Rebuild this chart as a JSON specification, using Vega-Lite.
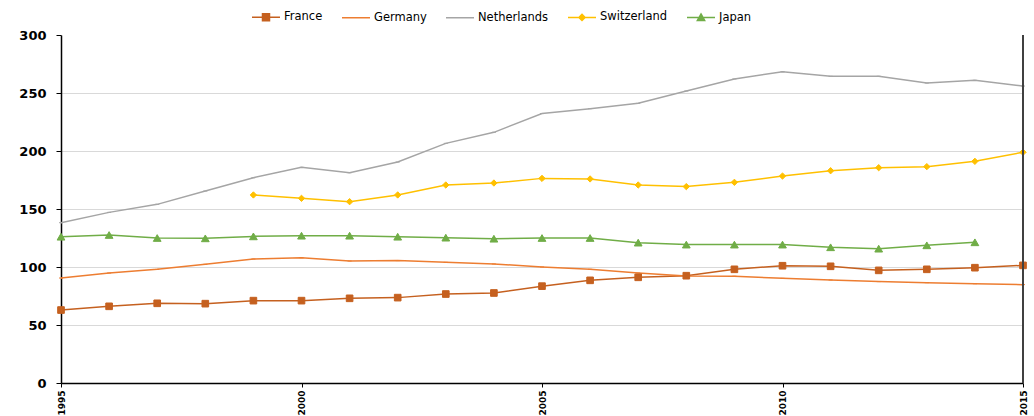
{
  "$schema": "https://vega.github.io/schema/vega-lite/v6.json",
  "width": 962,
  "height": 348,
  "autosize": {"type": "none"},
  "padding": {"left": 61, "top": 35, "right": 11, "bottom": 33},
  "background": "white",
  "config": {
    "view": {"stroke": null},
    "font": "DejaVu Sans",
    "legend": {
      "orient": "none",
      "direction": "horizontal",
      "legendX": 190,
      "legendY": -33,
      "labelFont": "DejaVu Sans",
      "labelFontSize": 11.5,
      "labelColor": "black",
      "labelOffset": 3,
      "columnPadding": 16,
      "symbolSize": 784,
      "symbolStrokeWidth": 1.5,
      "symbolOpacity": 1
    }
  },
  "data": {
    "values": [
      {"year": 1995, "country": "France", "value": 62.9},
      {"year": 1996, "country": "France", "value": 66.1},
      {"year": 1997, "country": "France", "value": 68.7},
      {"year": 1998, "country": "France", "value": 68.4},
      {"year": 1999, "country": "France", "value": 71.0},
      {"year": 2000, "country": "France", "value": 71.0},
      {"year": 2001, "country": "France", "value": 73.0},
      {"year": 2002, "country": "France", "value": 73.6},
      {"year": 2003, "country": "France", "value": 76.7},
      {"year": 2004, "country": "France", "value": 77.6},
      {"year": 2005, "country": "France", "value": 83.5},
      {"year": 2006, "country": "France", "value": 88.5},
      {"year": 2007, "country": "France", "value": 91.1},
      {"year": 2008, "country": "France", "value": 92.5},
      {"year": 2009, "country": "France", "value": 98.0},
      {"year": 2010, "country": "France", "value": 101.1},
      {"year": 2011, "country": "France", "value": 100.6},
      {"year": 2012, "country": "France", "value": 97.1},
      {"year": 2013, "country": "France", "value": 98.0},
      {"year": 2014, "country": "France", "value": 99.4},
      {"year": 2015, "country": "France", "value": 101.4},
      {"year": 1995, "country": "Germany", "value": 90.5},
      {"year": 1996, "country": "Germany", "value": 94.8},
      {"year": 1997, "country": "Germany", "value": 98.0},
      {"year": 1998, "country": "Germany", "value": 102.3},
      {"year": 1999, "country": "Germany", "value": 106.9},
      {"year": 2000, "country": "Germany", "value": 108.0},
      {"year": 2001, "country": "Germany", "value": 105.2},
      {"year": 2002, "country": "Germany", "value": 105.5},
      {"year": 2003, "country": "Germany", "value": 104.0},
      {"year": 2004, "country": "Germany", "value": 102.6},
      {"year": 2005, "country": "Germany", "value": 100.0},
      {"year": 2006, "country": "Germany", "value": 98.0},
      {"year": 2007, "country": "Germany", "value": 94.8},
      {"year": 2008, "country": "Germany", "value": 92.2},
      {"year": 2009, "country": "Germany", "value": 92.0},
      {"year": 2010, "country": "Germany", "value": 90.2},
      {"year": 2011, "country": "Germany", "value": 88.8},
      {"year": 2012, "country": "Germany", "value": 87.4},
      {"year": 2013, "country": "Germany", "value": 86.5},
      {"year": 2014, "country": "Germany", "value": 85.6},
      {"year": 2015, "country": "Germany", "value": 84.8},
      {"year": 1995, "country": "Netherlands", "value": 138.2},
      {"year": 1996, "country": "Netherlands", "value": 147.1},
      {"year": 1997, "country": "Netherlands", "value": 154.0},
      {"year": 1998, "country": "Netherlands", "value": 165.5},
      {"year": 1999, "country": "Netherlands", "value": 177.0},
      {"year": 2000, "country": "Netherlands", "value": 185.9},
      {"year": 2001, "country": "Netherlands", "value": 181.3},
      {"year": 2002, "country": "Netherlands", "value": 190.5},
      {"year": 2003, "country": "Netherlands", "value": 206.6},
      {"year": 2004, "country": "Netherlands", "value": 216.1},
      {"year": 2005, "country": "Netherlands", "value": 232.3},
      {"year": 2006, "country": "Netherlands", "value": 236.5},
      {"year": 2007, "country": "Netherlands", "value": 241.1},
      {"year": 2008, "country": "Netherlands", "value": 251.7},
      {"year": 2009, "country": "Netherlands", "value": 262.1},
      {"year": 2010, "country": "Netherlands", "value": 268.4},
      {"year": 2011, "country": "Netherlands", "value": 264.4},
      {"year": 2012, "country": "Netherlands", "value": 264.4},
      {"year": 2013, "country": "Netherlands", "value": 258.6},
      {"year": 2014, "country": "Netherlands", "value": 260.9},
      {"year": 2015, "country": "Netherlands", "value": 256.0},
      {"year": 1999, "country": "Switzerland", "value": 162.1},
      {"year": 2000, "country": "Switzerland", "value": 159.2},
      {"year": 2001, "country": "Switzerland", "value": 156.3},
      {"year": 2002, "country": "Switzerland", "value": 162.1},
      {"year": 2003, "country": "Switzerland", "value": 170.7},
      {"year": 2004, "country": "Switzerland", "value": 172.4},
      {"year": 2005, "country": "Switzerland", "value": 176.4},
      {"year": 2006, "country": "Switzerland", "value": 175.9},
      {"year": 2007, "country": "Switzerland", "value": 170.7},
      {"year": 2008, "country": "Switzerland", "value": 169.3},
      {"year": 2009, "country": "Switzerland", "value": 173.0},
      {"year": 2010, "country": "Switzerland", "value": 178.4},
      {"year": 2011, "country": "Switzerland", "value": 183.0},
      {"year": 2012, "country": "Switzerland", "value": 185.6},
      {"year": 2013, "country": "Switzerland", "value": 186.5},
      {"year": 2014, "country": "Switzerland", "value": 191.1},
      {"year": 2015, "country": "Switzerland", "value": 198.9},
      {"year": 1995, "country": "Japan", "value": 126.1},
      {"year": 1996, "country": "Japan", "value": 127.6},
      {"year": 1997, "country": "Japan", "value": 125.0},
      {"year": 1998, "country": "Japan", "value": 124.7},
      {"year": 1999, "country": "Japan", "value": 126.4},
      {"year": 2000, "country": "Japan", "value": 127.0},
      {"year": 2001, "country": "Japan", "value": 127.0},
      {"year": 2002, "country": "Japan", "value": 126.1},
      {"year": 2003, "country": "Japan", "value": 125.3},
      {"year": 2004, "country": "Japan", "value": 124.4},
      {"year": 2005, "country": "Japan", "value": 125.0},
      {"year": 2006, "country": "Japan", "value": 125.0},
      {"year": 2007, "country": "Japan", "value": 121.0},
      {"year": 2008, "country": "Japan", "value": 119.3},
      {"year": 2009, "country": "Japan", "value": 119.3},
      {"year": 2010, "country": "Japan", "value": 119.3},
      {"year": 2011, "country": "Japan", "value": 117.0},
      {"year": 2012, "country": "Japan", "value": 115.8},
      {"year": 2013, "country": "Japan", "value": 118.7},
      {"year": 2014, "country": "Japan", "value": 121.3}
    ]
  },
  "layer": [
    {
      "mark": {"type": "line", "strokeWidth": 1.5},
      "encoding": {
        "x": {
          "field": "year",
          "type": "quantitative",
          "scale": {"domain": [1995, 2015], "nice": false, "zero": false},
          "axis": {
            "title": null,
            "values": [1995, 2000, 2005, 2010, 2015],
            "format": "d",
            "labelAngle": 270,
            "labelFont": "DejaVu Sans",
            "labelFontWeight": "bold",
            "labelFontSize": 9,
            "labelColor": "black",
            "labelPadding": 3,
            "tickSize": 4,
            "tickColor": "black",
            "domainColor": "black",
            "domainWidth": 1.5,
            "grid": false
          }
        },
        "y": {
          "field": "value",
          "type": "quantitative",
          "scale": {"domain": [0, 300], "nice": false},
          "axis": {
            "title": null,
            "values": [0, 50, 100, 150, 200, 250, 300],
            "labelFont": "DejaVu Sans",
            "labelFontWeight": "bold",
            "labelFontSize": 13,
            "labelColor": "black",
            "labelPadding": 10,
            "tickSize": 5,
            "tickColor": "black",
            "domainColor": "black",
            "domainWidth": 1.5,
            "grid": true,
            "gridColor": {"condition": {"test": "datum.value === 300 || datum.value === 0", "value": "transparent"}, "value": "#D9D9D9"},
            "gridWidth": 1
          }
        },
        "color": {
          "field": "country",
          "type": "nominal",
          "scale": {
            "domain": ["France", "Germany", "Netherlands", "Switzerland", "Japan"],
            "range": ["#C5601F", "#ED7D31", "#A5A5A5", "#FFC000", "#70AD47"]
          },
          "legend": null
        }
      }
    },
    {
      "transform": [{"filter": {"field": "country", "oneOf": ["Germany", "Netherlands"]}}],
      "mark": {"type": "point", "shape": "stroke", "size": 16, "filled": true, "strokeWidth": 1, "opacity": 1},
      "encoding": {
        "x": {"field": "year", "type": "quantitative"},
        "y": {"field": "value", "type": "quantitative"},
        "fill": {"field": "country", "type": "nominal", "scale": {"domain": ["France", "Germany", "Netherlands", "Switzerland", "Japan"], "range": ["#C5601F", "#ED7D31", "#A5A5A5", "#FFC000", "#70AD47"]}, "legend": null},
        "stroke": {"field": "country", "type": "nominal", "scale": {"domain": ["France", "Germany", "Netherlands", "Switzerland", "Japan"], "range": ["#C5601F", "#ED7D31", "#A5A5A5", "#FFC000", "#70AD47"]}, "legend": null}
      }
    },
    {
      "transform": [{"filter": {"field": "country", "equal": "France"}}],
      "mark": {"type": "point", "shape": "square", "size": 44, "filled": true, "strokeWidth": 1, "opacity": 1},
      "encoding": {
        "x": {"field": "year", "type": "quantitative"},
        "y": {"field": "value", "type": "quantitative"},
        "fill": {"field": "country", "type": "nominal", "scale": {"domain": ["France", "Germany", "Netherlands", "Switzerland", "Japan"], "range": ["#C5601F", "#ED7D31", "#A5A5A5", "#FFC000", "#70AD47"]}, "legend": null},
        "stroke": {"field": "country", "type": "nominal", "scale": {"domain": ["France", "Germany", "Netherlands", "Switzerland", "Japan"], "range": ["#C5601F", "#ED7D31", "#A5A5A5", "#FFC000", "#70AD47"]}, "legend": null}
      }
    },
    {
      "transform": [{"filter": {"field": "country", "equal": "Switzerland"}}],
      "mark": {"type": "point", "shape": "diamond", "size": 40, "filled": true, "strokeWidth": 1, "opacity": 1},
      "encoding": {
        "x": {"field": "year", "type": "quantitative"},
        "y": {"field": "value", "type": "quantitative"},
        "fill": {"field": "country", "type": "nominal", "scale": {"domain": ["France", "Germany", "Netherlands", "Switzerland", "Japan"], "range": ["#C5601F", "#ED7D31", "#A5A5A5", "#FFC000", "#70AD47"]}, "legend": null},
        "stroke": {"field": "country", "type": "nominal", "scale": {"domain": ["France", "Germany", "Netherlands", "Switzerland", "Japan"], "range": ["#C5601F", "#ED7D31", "#A5A5A5", "#FFC000", "#70AD47"]}, "legend": null}
      }
    },
    {
      "transform": [{"filter": {"field": "country", "equal": "Japan"}}],
      "mark": {"type": "point", "shape": "triangle-up", "size": 60, "filled": true, "strokeWidth": 1, "opacity": 1},
      "encoding": {
        "x": {"field": "year", "type": "quantitative"},
        "y": {"field": "value", "type": "quantitative"},
        "fill": {"field": "country", "type": "nominal", "scale": {"domain": ["France", "Germany", "Netherlands", "Switzerland", "Japan"], "range": ["#C5601F", "#ED7D31", "#A5A5A5", "#FFC000", "#70AD47"]}, "legend": null},
        "stroke": {"field": "country", "type": "nominal", "scale": {"domain": ["France", "Germany", "Netherlands", "Switzerland", "Japan"], "range": ["#C5601F", "#ED7D31", "#A5A5A5", "#FFC000", "#70AD47"]}, "legend": null}
      }
    },
    {
      "transform": [{"filter": "datum.year > 3000"}],
      "mark": {"type": "point", "filled": true, "strokeWidth": 1.5, "opacity": 1},
      "encoding": {
        "x": {"field": "year", "type": "quantitative"},
        "y": {"field": "value", "type": "quantitative"},
        "fill": {"field": "country", "type": "nominal", "scale": {"domain": ["France", "Germany", "Netherlands", "Switzerland", "Japan"], "range": ["#C5601F", "#ED7D31", "#A5A5A5", "#FFC000", "#70AD47"]}, "legend": {"title": null}},
        "stroke": {"field": "country", "type": "nominal", "scale": {"domain": ["France", "Germany", "Netherlands", "Switzerland", "Japan"], "range": ["#C5601F", "#ED7D31", "#A5A5A5", "#FFC000", "#70AD47"]}, "legend": {"title": null}},
        "shape": {
          "field": "country",
          "type": "nominal",
          "scale": {
            "domain": ["France", "Germany", "Netherlands", "Switzerland", "Japan"],
            "range": [
              "M-1,0H1M-0.25,-0.25H0.25V0.25H-0.25Z",
              "M-1,0H1",
              "M-1,0H1",
              "M-1,0H1M0,-0.22L0.22,0L0,0.22L-0.22,0Z",
              "M-1,0H1M0,-0.26L0.26,0.2L-0.26,0.2Z"
            ]
          },
          "legend": {"title": null}
        }
      }
    },
    {
      "mark": {"type": "rule", "color": "#404040", "strokeWidth": 2},
      "encoding": {"x": {"datum": 2015}}
    }
  ],
  "resolve": {"legend": {"color": "independent", "fill": "independent", "stroke": "independent", "shape": "independent"}}
}
